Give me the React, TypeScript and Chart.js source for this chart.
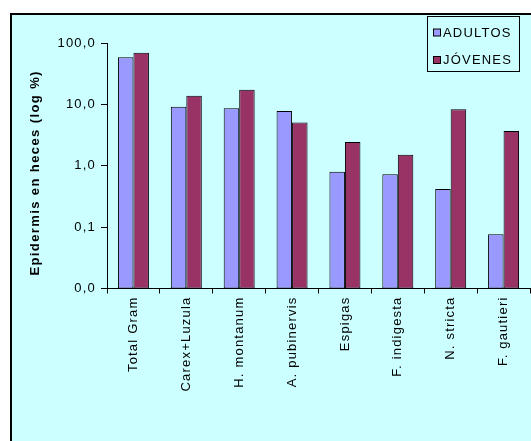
import React, { useEffect, useRef } from "react";
import { Chart, registerables } from "chart.js";

Chart.register(...registerables);

const categories = [
  "Total Gram",
  "Carex+Luzula",
  "H. montanum",
  "A. pubinervis",
  "Espigas",
  "F. indigesta",
  "N. stricta",
  "F. gautieri",
];
const adultos = [59.1, 9.2, 8.7, 7.9, 0.8, 0.73, 0.42, 0.077];
const jovenes = [70.3, 14.0, 17.5, 5.1, 2.45, 1.52, 8.4, 3.71];
const yTicks = [0.01, 0.1, 1, 10, 100];
const seriesNames = ["ADULTOS", "JÓVENES"];
const yTitle = "Epidermis en heces (log %)";

const FONT = "'Liberation Sans', Arial, sans-serif";
const CYAN = "#CCFFFF";
const BLUE = "#9999FF";
const MAROON = "#993366";

const framePlugin = {
  id: "frame",
  beforeLayout(chart: any) {
    chart.ctx.letterSpacing = "1.2px";
  },
  beforeDraw(chart: any) {
    const ctx = chart.ctx;
    const w = chart.width;
    const h = chart.height;
    ctx.save();
    ctx.fillStyle = "#ffffff";
    ctx.fillRect(0, 0, w, h);
    ctx.fillStyle = CYAN;
    ctx.fillRect(12, 15, w - 12, h - 15);
    ctx.fillStyle = "#000000";
    ctx.fillRect(10, 13, 2, h - 13);
    ctx.fillRect(10, 13, w - 10, 2);
    ctx.restore();
    ctx.letterSpacing = "1.2px";
  },
  afterDraw(chart: any) {
    const ctx = chart.ctx;
    const area = chart.chartArea;
    // y-axis title
    ctx.save();
    ctx.letterSpacing = "1.4px";
    ctx.font = `bold 13px ${FONT}`;
    ctx.fillStyle = "#000000";
    ctx.translate(39, (area.top + area.bottom) / 2 + 7);
    ctx.rotate(-Math.PI / 2);
    ctx.textAlign = "center";
    ctx.textBaseline = "alphabetic";
    ctx.fillText(yTitle, 0, 0);
    ctx.restore();

    // legend
    ctx.save();
    ctx.letterSpacing = "1.2px";
    const bx = 427.5, by = 16.5, bw = 92, bh = 55;
    ctx.fillStyle = CYAN;
    ctx.fillRect(bx, by, bw, bh);
    ctx.strokeStyle = "#000000";
    ctx.lineWidth = 1;
    ctx.strokeRect(bx, by, bw, bh);
    const colors = [BLUE, MAROON];
    const rows = [32.5, 60];
    ctx.font = `13px ${FONT}`;
    ctx.textBaseline = "middle";
    ctx.textAlign = "left";
    for (let i = 0; i < 2; i++) {
      const cy = rows[i];
      ctx.fillStyle = colors[i];
      ctx.fillRect(433.5, cy - 3.5, 7, 7);
      ctx.strokeRect(433.5, cy - 3.5, 7, 7);
      ctx.fillStyle = "#000000";
      ctx.fillText(seriesNames[i], 443, cy + 0.5);
    }
    ctx.restore();
  },
};

export default function App() {
  const ref = useRef<HTMLCanvasElement | null>(null);
  useEffect(() => {
    if (!ref.current) return;
    const chart = new Chart(ref.current, {
      type: "bar",
      data: {
        labels: categories,
        datasets: [
          {
            label: seriesNames[0],
            data: adultos,
            backgroundColor: BLUE,
            borderColor: "#000000",
            borderWidth: 1,
            borderSkipped: false,
            categoryPercentage: 0.586,
            barPercentage: 1,
          },
          {
            label: seriesNames[1],
            data: jovenes,
            backgroundColor: MAROON,
            borderColor: "#000000",
            borderWidth: 1,
            borderSkipped: false,
            categoryPercentage: 0.586,
            barPercentage: 1,
          },
        ],
      },
      options: {
        responsive: false,
        animation: false,
        devicePixelRatio: 1,
        layout: { padding: { left: 0, top: 43.3, right: 1, bottom: 0 } },
        plugins: {
          legend: { display: false },
          tooltip: { enabled: false },
          title: { display: false },
        },
        scales: {
          x: {
            type: "category",
            offset: true,
            afterFit(scale: any) {
              scale.height = 441 - 288.5;
            },
            grid: {
              display: true,
              offset: true,
              drawOnChartArea: false,
              drawTicks: true,
              tickLength: 5,
              color: "#000000",
            },
            border: { display: true, color: "#000000", width: 1 },
            ticks: {
              autoSkip: false,
              maxRotation: 90,
              minRotation: 90,
              padding: 3,
              color: "#000000",
              font: { family: FONT, size: 13 },
            },
          },
          y: {
            type: "logarithmic",
            min: 0.01,
            max: 100,
            afterFit(scale: any) {
              scale.width = 107;
            },
            afterBuildTicks(scale: any) {
              scale.ticks = yTicks.map((v) => ({ value: v }));
            },
            grid: {
              display: true,
              drawOnChartArea: false,
              drawTicks: true,
              tickLength: 6,
              color: "#000000",
            },
            border: { display: true, color: "#000000", width: 1 },
            ticks: {
              padding: 5,
              color: "#000000",
              font: { family: FONT, size: 13 },
              callback: (v: any) => Number(v).toFixed(1).replace(".", ","),
            },
          },
        },
      },
      plugins: [framePlugin],
    });
    return () => chart.destroy();
  }, []);
  return (
    <div style={{ position: "absolute", left: 0, top: 0, width: 531, height: 441 }}>
      <canvas ref={ref} width={531} height={441} style={{ display: "block" }} />
    </div>
  );
}
